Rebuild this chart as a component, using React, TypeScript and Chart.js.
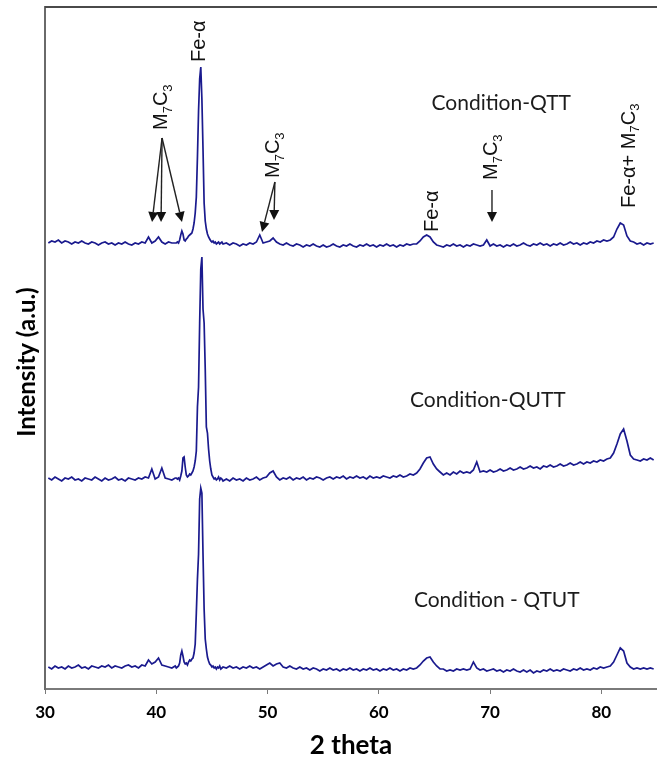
import React, { useEffect, useRef } from "react";
import { Chart, registerables } from "chart.js";

Chart.register(...registerables);

// 2θ sampling positions (degrees)
const TWO_THETA = [
  30.3, 30.6, 30.9, 31.2, 31.5, 31.8, 32.1, 32.4, 32.7, 33.0, 33.3, 33.6, 33.9, 34.2, 34.5, 34.8, 35.1, 35.4, 35.7, 36.0,
  36.3, 36.6, 36.9, 37.2, 37.5, 37.8, 38.1, 38.4, 38.7, 39.0, 39.3, 39.6, 39.9, 40.2, 40.5, 40.8, 41.1, 41.4, 41.7,
  41.8, 41.9, 42.0, 42.1, 42.2, 42.3, 42.4, 42.5, 42.6, 42.7, 42.8, 42.9, 43.0, 43.1, 43.2, 43.3, 43.4, 43.5, 43.6, 43.7,
  43.8, 43.9, 44.0, 44.1, 44.2, 44.3, 44.4, 44.5, 44.6, 44.7, 44.8, 44.9, 45.0, 45.1, 45.2, 45.3, 45.4, 45.5, 45.6, 45.7,
  45.8, 45.9, 46.0,
  46.3, 46.6, 46.9, 47.2, 47.5, 47.8, 48.1, 48.4, 48.7, 49.0, 49.3, 49.6, 49.9, 50.2, 50.5, 50.8, 51.1, 51.4, 51.7, 52.0,
  52.3, 52.6, 52.9, 53.2, 53.5, 53.8, 54.1, 54.4, 54.7, 55.0, 55.3, 55.6, 55.9, 56.2, 56.5, 56.8, 57.1, 57.4, 57.7, 58.0,
  58.3, 58.6, 58.9, 59.2, 59.5, 59.8, 60.1, 60.4, 60.7, 61.0, 61.3, 61.6, 61.9, 62.2, 62.5, 62.8, 63.1, 63.4, 63.7, 64.0,
  64.3, 64.6, 64.9, 65.2, 65.5, 65.8, 66.1, 66.4, 66.7, 67.0, 67.3, 67.6, 67.9, 68.2, 68.5, 68.8, 69.1, 69.4, 69.7, 70.0,
  70.3, 70.6, 70.9, 71.2, 71.5, 71.8, 72.1, 72.4, 72.7, 73.0, 73.3, 73.6, 73.9, 74.2, 74.5, 74.8, 75.1, 75.4, 75.7, 76.0,
  76.3, 76.6, 76.9, 77.2, 77.5, 77.8, 78.1, 78.4, 78.7, 79.0, 79.3, 79.6, 79.9, 80.2, 80.5, 80.8, 81.1, 81.4, 81.7, 82.0,
  82.3, 82.6, 82.9, 83.2, 83.5, 83.8, 84.1, 84.4, 84.7,
];

// Intensities (a.u., traces stacked with offsets as in the figure)
const QTT = [
  446, 448, 447, 449, 446, 448, 447, 445, 447, 446, 448, 446, 445, 447, 446, 444, 446, 447, 445, 446,
  444, 446, 445, 447, 445, 444, 446, 445, 447, 446, 452, 446, 448, 452, 447, 445, 447, 446, 446,
  446, 447, 446, 449, 454, 458, 455, 449, 448, 450, 451, 453, 454, 455, 456, 460, 466, 476, 492, 532,
  578, 610, 622, 590, 540, 486, 468, 460, 455, 452, 450, 448, 447, 448, 446, 447, 445, 446, 447, 445,
  446, 447, 445,
  446, 444, 446, 445, 443, 445, 444, 446, 445, 447, 454, 446, 447, 448, 451, 447, 445, 444, 446, 444,
  443, 445, 444, 442, 444, 443, 445, 443, 442, 444, 442, 443, 445, 443, 442, 444, 443, 445, 443, 442,
  444, 443, 445, 443, 444, 442, 444, 443, 445, 443, 444, 442, 444, 443, 445, 444, 445, 445, 448, 452,
  454, 452, 447, 444, 443, 442, 444, 443, 445, 443, 444, 442, 444, 443, 445, 444, 443, 444, 449, 443,
  445, 443, 444, 442, 444, 443, 445, 443, 444, 446, 444, 443, 445, 444, 446, 444, 445, 443, 445, 444,
  446, 444, 445, 447, 445, 446, 444, 446, 445, 447, 446, 448, 447, 449, 448, 449, 452, 460, 466, 464,
  453, 448, 447, 445, 446, 444, 446, 445, 446,
];

const QUTT = [
  211, 209, 212, 210, 208, 211, 210, 212, 209, 210, 208, 211, 210, 209, 212, 210, 208, 211, 209, 210,
  212, 209, 210, 208, 211, 210, 209, 211, 210, 212, 211, 220, 210, 212, 221, 211, 210, 209, 211,
  211, 210, 211, 209, 213, 218, 231, 232, 222, 214, 212, 213, 215, 214, 216, 218, 222, 228, 238, 282,
  302, 366, 420, 432, 380, 366, 320, 262, 256, 240, 228, 220, 214, 212, 210, 211, 209, 210, 212, 209,
  211, 210, 208,
  210, 208, 211, 209, 210, 208, 211, 209, 210, 212, 209, 211, 212, 216, 218, 212, 209, 211, 210, 212,
  209, 211, 210, 212, 209, 211, 210, 212, 211, 209, 211, 212, 210, 212, 211, 213, 210, 212, 211, 213,
  211, 212, 210, 213, 211, 212, 211, 213, 212, 211, 213, 212, 214, 212, 213, 215, 214, 216, 220, 226,
  231, 232, 225, 220, 217, 214, 216, 214, 217, 215, 218, 216, 217, 216, 219, 227, 217, 218, 217, 219,
  217, 218, 220, 218, 219, 221, 219, 220, 222, 220, 221, 223, 221, 222, 220, 223, 222, 224, 222, 223,
  225, 223, 224, 226, 224, 225, 227, 225, 227, 226, 228, 227, 229, 228, 230, 231, 236, 245, 255, 260,
  248, 234, 230, 229, 228, 230, 229, 231, 229,
];

const QTUT = [
  22, 20, 23, 21, 22, 20, 23, 21, 22, 24, 21, 22, 20, 23, 22, 21, 23, 22, 24, 21,
  23, 22, 21, 23, 24, 22, 23, 21, 24, 23, 29, 25, 27, 31, 24, 23, 22, 21, 23,
  21, 22, 23, 26, 34, 38, 33, 27, 25, 26, 24, 27, 29, 28, 30, 31, 36, 45, 76, 110,
  135, 190, 201, 196, 135, 80, 50, 40, 32, 28, 25, 24, 22, 23, 21, 22, 20, 22, 21, 23,
  20, 21, 22,
  21, 23, 21, 22, 20, 22, 21, 23, 21, 22, 20, 22, 24, 26, 23, 25, 26, 22, 21, 23,
  21, 20, 22, 20, 21, 19, 21, 20, 18, 20, 19, 21, 19, 20, 18, 20, 19, 21, 19, 20,
  18, 20, 19, 21, 19, 20, 18, 20, 19, 21, 19, 20, 18, 20, 19, 21, 20, 21, 24, 28,
  31, 32, 27, 23, 20, 20, 18, 19, 18, 20, 19, 20, 19, 20, 27, 21, 19, 20, 18, 19,
  20, 18, 19, 17, 19, 18, 20, 18, 17, 19, 17, 19, 16, 18, 17, 19, 18, 20, 18, 19,
  18, 20, 19, 18, 20, 19, 21, 19, 20, 19, 21, 20, 22, 21, 22, 23, 27, 34, 41, 38,
  26, 22, 20, 21, 20, 21, 20, 21, 20,
];

const X_TICKS = [30, 40, 50, 60, 70, 80];
const X_TITLE = "2 theta";
const Y_TITLE = "Intensity (a.u.)";

type Part = { t: string; sub?: boolean };
const M7C3: Part[] = [{ t: "M" }, { t: "7", sub: true }, { t: "C" }, { t: "3", sub: true }];
const FE_A: Part[] = [{ t: "Fe-α" }];
const FE_A_M7C3: Part[] = [{ t: "Fe-α+ M" }, { t: "7", sub: true }, { t: "C" }, { t: "3", sub: true }];

// Peak labels (rotated, anchored at their lower start) in data coordinates
const PEAK_LABELS = [
  { x: 40.34, y: 559, parts: M7C3 },
  { x: 43.75, y: 627, parts: FE_A },
  { x: 50.4, y: 511, parts: M7C3 },
  { x: 64.69, y: 457, parts: FE_A },
  { x: 69.99, y: 509, parts: M7C3 },
  { x: 82.34, y: 481, parts: FE_A_M7C3 },
];

const ARROWS = [
  { from: [40.52, 551], to: [39.62, 467] },
  { from: [40.52, 551], to: [40.43, 467] },
  { from: [40.52, 551], to: [42.31, 467] },
  { from: [50.66, 507], to: [49.5, 457] },
  { from: [50.66, 507], to: [50.58, 469] },
  { from: [70.17, 499], to: [70.17, 467] },
];

const CONDITION_LABELS = [
  { x: 71.0, y: 586, text: "Condition-QTT" },
  { x: 69.8, y: 289, text: "Condition-QUTT" },
  { x: 70.6, y: 89, text: "Condition - QTUT" },
];

const LINE_COLOR = "#1a1a8e";

function drawRich(ctx: CanvasRenderingContext2D, parts: Part[], x: number, y: number, size: number, family: string) {
  const sub = Math.round(size * 0.65);
  ctx.save();
  ctx.translate(x, y);
  ctx.rotate(-Math.PI / 2);
  ctx.textAlign = "left";
  ctx.textBaseline = "alphabetic";
  const widths = parts.map((p) => {
    ctx.font = `${p.sub ? sub : size}px ${family}`;
    return ctx.measureText(p.t).width;
  });
  let cx = 0;
  const base = size * 0.36;
  parts.forEach((p, i) => {
    ctx.font = `${p.sub ? sub : size}px ${family}`;
    ctx.fillText(p.t, cx, base + (p.sub ? size * 0.24 : 0));
    cx += widths[i];
  });
  ctx.restore();
}

const annotationPlugin = {
  id: "xrdAnnotations",
  afterDatasetsDraw(chart: any) {
    const { ctx, scales, chartArea } = chart;
    const xs = scales.x;
    const ys = scales.y;
    ctx.save();
    // top border of plot area
    ctx.strokeStyle = "#4a4a4a";
    ctx.lineWidth = 2;
    ctx.beginPath();
    ctx.moveTo(chartArea.left, chartArea.top);
    ctx.lineTo(chartArea.right, chartArea.top);
    ctx.stroke();

    ctx.fillStyle = "#111";
    PEAK_LABELS.forEach((l) => {
      drawRich(ctx, l.parts, xs.getPixelForValue(l.x), ys.getPixelForValue(l.y), 20, "'Liberation Sans', Arial, sans-serif");
    });

    ctx.strokeStyle = "#222";
    ctx.fillStyle = "#111";
    ctx.lineWidth = 1.4;
    ARROWS.forEach((a) => {
      const x1 = xs.getPixelForValue(a.from[0]);
      const y1 = ys.getPixelForValue(a.from[1]);
      const x2 = xs.getPixelForValue(a.to[0]);
      const y2 = ys.getPixelForValue(a.to[1]);
      const ang = Math.atan2(y2 - y1, x2 - x1);
      const hl = 10;
      const hw = 5;
      const bx = x2 - hl * Math.cos(ang);
      const by = y2 - hl * Math.sin(ang);
      ctx.beginPath();
      ctx.moveTo(x1, y1);
      ctx.lineTo(bx, by);
      ctx.stroke();
      ctx.beginPath();
      ctx.moveTo(x2, y2);
      ctx.lineTo(bx + hw * Math.sin(ang), by - hw * Math.cos(ang));
      ctx.lineTo(bx - hw * Math.sin(ang), by + hw * Math.cos(ang));
      ctx.closePath();
      ctx.fill();
    });

    ctx.fillStyle = "#1c1c1c";
    ctx.font = "21px Lato, 'Open Sans', sans-serif";
    ctx.textAlign = "center";
    ctx.textBaseline = "middle";
    CONDITION_LABELS.forEach((c) => {
      ctx.fillText(c.text, xs.getPixelForValue(c.x), ys.getPixelForValue(c.y));
    });

    // axis titles
    ctx.fillStyle = "#000";
    ctx.font = "bold 26px Lato, sans-serif";
    ctx.fillText(X_TITLE, (chartArea.left + chartArea.right) / 2, 746);
    ctx.save();
    ctx.translate(27, 362);
    ctx.rotate(-Math.PI / 2);
    ctx.font = "bold 24px Lato, sans-serif";
    ctx.fillText(Y_TITLE, 0, 0);
    ctx.restore();
    ctx.restore();
  },
};

export default function App() {
  const ref = useRef<HTMLCanvasElement | null>(null);
  useEffect(() => {
    if (!ref.current) return;
    const mk = (vals: number[]) => TWO_THETA.map((x, i) => ({ x, y: vals[i] }));
    const ds = (label: string, vals: number[]) => ({
      label,
      data: mk(vals),
      borderColor: LINE_COLOR,
      borderWidth: 1.7,
      pointRadius: 0,
      tension: 0,
      fill: false,
    });
    const chart = new Chart(ref.current, {
      type: "line",
      data: {
        datasets: [
          ds("Condition-QTT", QTT),
          ds("Condition-QUTT", QUTT),
          ds("Condition - QTUT", QTUT),
        ],
      },
      options: {
        animation: false,
        responsive: false,
        devicePixelRatio: 1,
        layout: { padding: { top: 7, left: 0, right: 0, bottom: 0 } },
        plugins: { legend: { display: false }, tooltip: { enabled: false } },
        scales: {
          x: {
            type: "linear",
            min: 30,
            max: 85,
            afterBuildTicks: (s: any) => {
              s.ticks = X_TICKS.map((v) => ({ value: v }));
            },
            afterFit: (s: any) => {
              s.height = 71;
            },
            ticks: {
              font: { family: "Lato, sans-serif", weight: "bold", size: 17 },
              color: "#000",
              padding: 8,
              maxRotation: 0,
            },
            grid: { drawOnChartArea: false, drawTicks: true, tickLength: 5, color: "#7a7a7a" },
            border: { display: true, color: "#7a7a7a", width: 2 },
          },
          y: {
            type: "linear",
            min: 0,
            max: 682,
            afterFit: (s: any) => {
              s.width = 45;
            },
            ticks: { display: false },
            grid: { drawOnChartArea: false, drawTicks: false },
            border: { display: true, color: "#6a6a6a", width: 2 },
          },
        },
      },
      plugins: [annotationPlugin],
    });
    return () => chart.destroy();
  }, []);
  return (
    <div style={{ position: "fixed", left: 0, top: 0, width: 657, height: 760, background: "#fff" }}>
      <canvas ref={ref} width={657} height={760} style={{ width: 657, height: 760 }} />
    </div>
  );
}
